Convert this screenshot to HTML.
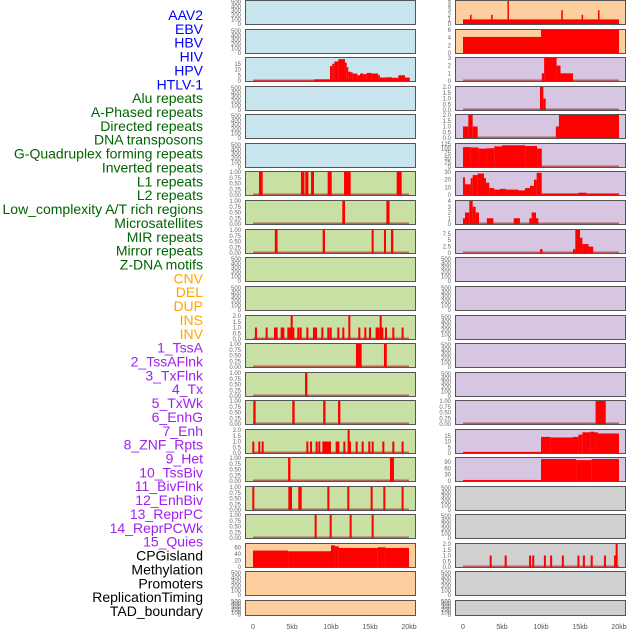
<!DOCTYPE html>
<html><head><meta charset="utf-8">
<style>
body{margin:0;background:#fff;width:630px;height:630px;overflow:hidden;font-family:"Liberation Sans",sans-serif}
svg{display:block}
</style></head>
<body>
<svg id="chart" width="630" height="630" viewBox="0 0 630 630" xmlns="http://www.w3.org/2000/svg"></svg>
<script>
// ---- data ----
const trackLabels=["AAV2","EBV","HBV","HIV","HPV","HTLV-1","Alu repeats","A-Phased repeats","Directed repeats","DNA transposons","G-Quadruplex forming repeats","Inverted repeats","L1 repeats","L2 repeats","Low_complexity A/T rich regions","Microsatellites","MIR repeats","Mirror repeats","Z-DNA motifs","CNV","DEL","DUP","INS","INV","1_TssA","2_TssAFlnk","3_TxFlnk","4_Tx","5_TxWk","6_EnhG","7_Enh","8_ZNF_Rpts","9_Het","10_TssBiv","11_BivFlnk","12_EnhBiv","13_ReprPC","14_ReprPCWk","15_Quies","CPGisland","Methylation","Promoters","ReplicationTiming","TAD_boundary"];
const labelGroups=[6,13,5,15,5];
const xTicks=[0,5,10,15,20];
const xTickLabels=["0","5kb","10kb","15kb","20kb"];
// spike positions (kb) for point-like features
const spikesL11=[0.38,1.75,2.82,3.03,3.68,3.89,4.53,4.74,4.96,5.17,5.81,6.11,6.97,7.82,8.08,8.89,9.66,9.96,10.94,11.58,12.35,13.63,14.4,15.0,15.85,16.1,16.37,16.58,17.05,17.99,19.18];
const spikeValsL11=[1,1,1,1,1,1,1,1,2,1,1,1,1,1,1,1,1,1,1,1,2,1,1,1,1,1,2,1,1,1,1];
const spikesL15=[0.04,0.81,1.24,6.97,7.44,8.16,8.5,9.02,9.23,9.44,9.66,9.87,10.73,10.94,11.71,12.26,12.43,13.29,14.06,14.91,15.34,16.71,17.99,19.18];
const spikeValsL15=[1,1,1,1,1,1,1,1,1,1,1,1,1,1,1,2,1,1,1,1,1,1,1,1];
const spikesL17=[0.04,4.66,4.87,5.94,6.11,9.66,12.22,15.21,16.84,19.18];
const spikesL18=[8.03,9.96,12.52,15.34];
const spikesR19=[3.55,5.47,8.6,9.0,10.5,11.3,12.8,14.8,15.5,16.5,18.2,19.5,19.7];
const spikeValsR19=[1,1,1,1,1,1,1,1,1,1,1,1,2];
// segments [startKb,endKb,value]
const segsHIV=[[0,7.86,0.3],[7.86,9.87,1.5],[9.87,10.17,13],[10.17,10.43,15],[10.43,10.94,17],[10.94,11.79,19],[11.79,12.01,16],[12.01,12.22,12],[12.22,12.56,8],[12.56,12.78,7.5],[12.78,13.38,6.5],[13.38,13.72,5],[13.72,14.15,6.5],[14.15,14.57,6],[14.57,15.21,7],[15.21,16.06,6.5],[16.06,16.28,5],[16.28,17.0,3],[17.0,17.86,3.2],[17.86,18.63,2.8],[18.63,19.49,5],[19.49,20.1,3]];
const segsL6=[[0.77,1.24,1],[6.15,6.6,1],[6.7,7.1,1],[7.44,7.82,1],[9.57,10.09,1],[11.67,12.52,1],[18.42,19.06,1]];
const segsL7=[[11.45,11.8,1],[17.1,17.5,1]];
const segsL8=[[2.8,3.15,1],[8.93,9.23,1],[15.21,15.47,1],[16.79,17.05,1],[17.69,17.99,1]];
const segsL12=[[13.2,13.93,1],[16.79,17.15,1]];
const segsL13=[[6.67,6.97,1]];
const segsL14=[[0.04,0.34,1],[5.04,5.34,1],[9.0,9.3,1],[10.9,11.2,1]];
const segsL16=[[4.5,4.8,1],[17.56,18.07,1]];
const segsCpG=[[0,4.5,50],[4.5,10,48],[10,10.5,66],[10.5,11,63],[11,16,58],[16,17,60],[17,20,58]];
const segsR0=[[0,20,1],[0.9,1.1,2],[3.6,3.8,2],[5.7,5.85,5],[12.6,12.8,3],[15.2,15.4,2],[17.3,17.5,3]];
const segsR1=[[0,10,4.2],[10,20,6]];
const segsR2=[[10.1,10.4,1],[10.4,12.0,3],[12.0,12.5,2],[12.5,14.1,1]];
const segsR3=[[9.87,10.3,2],[10.3,10.6,1]];
const segsR4=[[0,0.68,1],[0.68,1.24,2],[1.24,1.88,1],[11.9,12.3,1],[12.3,20,2]];
const segsR5=[[0,1,108],[1,2,106],[2,3,100],[3,4,102],[4,5,112],[5,8,118],[8,9.5,114],[9.5,10.1,100]];
const segsR6=[[0,0.26,23],[0.26,0.98,14],[0.98,1.24,22],[1.24,1.88,26],[1.88,2.69,28],[2.69,2.95,22],[2.95,3.37,16],[3.37,4.02,9],[4.02,4.74,7],[4.74,5.5,8],[5.5,7.1,7],[7.1,7.95,6],[7.95,8.59,9],[8.59,9.1,12],[9.1,9.44,20],[9.44,10.09,29],[10.09,14.79,2],[14.79,15.85,3],[15.85,20,2]];
const segsR7=[[0,0.26,1],[0.26,0.81,2],[0.81,1.24,4],[1.24,1.62,3],[1.62,2.05,2],[3.06,3.9,1],[6.5,7.3,1],[8.5,8.8,1],[8.8,9.36,2],[9.36,9.66,1]];
const segsR8=[[9.87,10.2,1.5],[14.1,14.4,1.5],[14.4,15.0,9],[15.0,15.3,6],[15.3,16.1,3.5],[16.1,16.7,2.5]];
const segsR14=[[17.0,18.3,1]];
const segsR15=[[0,10,1],[10,11.2,14],[11.2,14.1,13.5],[14.1,14.8,14],[14.8,15.3,16],[15.3,16.3,18],[16.3,16.8,18.5],[16.8,17.3,18],[17.3,20,17]];
const segsR16=[[0,10,5],[10,14.5,105],[14.5,16.5,100],[16.5,20,105]];

const BLUE="#c8e4ec",GREEN="#c8e0a4",ORANGE="#fecf9e",PURPLE="#d6c6e2",GRAY="#d0d0d0";
const T500=[0,100,200,300,400,500],TBIN=[0,0.25,0.5,0.75,1],T2=[0,0.5,1,1.5,2];
function sp(pos,vals){return pos.map((p,i)=>[p-0.13,p+0.13,vals?vals[i]:1]);}
const leftPanels=[
 {bg:BLUE,ymax:520,ticks:T500,segs:[],base:false},
 {bg:BLUE,ymax:520,ticks:T500,segs:[],base:false},
 {bg:BLUE,ymax:20,ticks:[0,5,10,15],segs:segsHIV,base:true},
 {bg:BLUE,ymax:520,ticks:T500,segs:[],base:false},
 {bg:BLUE,ymax:520,ticks:T500,segs:[],base:false},
 {bg:BLUE,ymax:520,ticks:T500,segs:[],base:false},
 {bg:GREEN,ymax:1,ticks:TBIN,segs:segsL6,base:true},
 {bg:GREEN,ymax:1,ticks:TBIN,segs:segsL7,base:true},
 {bg:GREEN,ymax:1,ticks:TBIN,segs:segsL8,base:true},
 {bg:GREEN,ymax:520,ticks:T500,segs:[],base:false},
 {bg:GREEN,ymax:520,ticks:T500,segs:[],base:false},
 {bg:GREEN,ymax:2,ticks:T2,segs:sp(spikesL11,spikeValsL11),base:true},
 {bg:GREEN,ymax:1,ticks:TBIN,segs:segsL12,base:true},
 {bg:GREEN,ymax:1,ticks:TBIN,segs:segsL13,base:true},
 {bg:GREEN,ymax:1,ticks:TBIN,segs:segsL14,base:true},
 {bg:GREEN,ymax:2,ticks:T2,segs:sp(spikesL15,spikeValsL15),base:true},
 {bg:GREEN,ymax:1,ticks:TBIN,segs:segsL16,base:true},
 {bg:GREEN,ymax:1,ticks:TBIN,segs:sp(spikesL17),base:true},
 {bg:GREEN,ymax:1,ticks:TBIN,segs:sp(spikesL18),base:true},
 {bg:ORANGE,ymax:70,ticks:[0,20,40,60],segs:segsCpG,base:false},
 {bg:ORANGE,ymax:520,ticks:T500,segs:[],base:false},
 {bg:ORANGE,ymax:520,ticks:T500,segs:[],base:false}
];
const rightPanels=[
 {bg:ORANGE,ymax:5,ticks:[0,1,2,3,4,5],segs:segsR0,base:false},
 {bg:ORANGE,ymax:6,ticks:[0,2,4,6],segs:segsR1,base:false},
 {bg:PURPLE,ymax:3,ticks:[0,1,2,3],segs:segsR2,base:true},
 {bg:PURPLE,ymax:2,ticks:T2,segs:segsR3,base:true},
 {bg:PURPLE,ymax:2,ticks:T2,segs:segsR4,base:true},
 {bg:PURPLE,ymax:125,ticks:[0,25,50,75,100,125],segs:segsR5,base:true},
 {bg:PURPLE,ymax:30,ticks:[0,10,20,30],segs:segsR6,base:false},
 {bg:PURPLE,ymax:4,ticks:[0,1,2,3,4],segs:segsR7,base:true},
 {bg:PURPLE,ymax:9,ticks:[0,2.5,5,7.5],segs:segsR8,base:true},
 {bg:PURPLE,ymax:520,ticks:T500,segs:[],base:false},
 {bg:PURPLE,ymax:520,ticks:T500,segs:[],base:false},
 {bg:PURPLE,ymax:520,ticks:T500,segs:[],base:false},
 {bg:PURPLE,ymax:520,ticks:T500,segs:[],base:false},
 {bg:PURPLE,ymax:520,ticks:T500,segs:[],base:false},
 {bg:PURPLE,ymax:1,ticks:TBIN,segs:segsR14,base:true},
 {bg:PURPLE,ymax:20,ticks:[0,5,10,15],segs:segsR15,base:false},
 {bg:PURPLE,ymax:110,ticks:[0,30,60,90],segs:segsR16,base:false},
 {bg:GRAY,ymax:520,ticks:T500,segs:[],base:false},
 {bg:GRAY,ymax:520,ticks:T500,segs:[],base:false},
 {bg:GRAY,ymax:2,ticks:T2,segs:sp(spikesR19,spikeValsR19),base:true},
 {bg:GRAY,ymax:520,ticks:T500,segs:[],base:false},
 {bg:GRAY,ymax:520,ticks:T500,segs:[],base:false}
];
// ---- render ----
const NS="http://www.w3.org/2000/svg";
const svg=document.getElementById('chart');
function mk(tag,attrs,parent){const e=document.createElementNS(NS,tag);for(const k in attrs)e.setAttribute(k,attrs[k]);(parent||svg).appendChild(e);return e;}
const labelColors=["#0000ff","#006400","#ffa500","#a020f0","#000000"];
let gi=0,cnt=0;
trackLabels.forEach((t,i)=>{
  while(cnt>=labelGroups[gi]){cnt-=labelGroups[gi];gi++;}
  cnt++;
  const el=mk('text',{x:203,y:15+i*13.86+5,'text-anchor':'end','font-size':14,fill:labelColors[gi]});
  el.textContent=t;
  
  
});
const tops=[0,29,57,86,114,143,171,200,229,257,286,315,343,372,400,429,457,486,514,543,571,600];
function panelH(i){return i===21?16:25;}
function drawCol(panels,x0,name){
  const W=171, xs=k=>x0+8+k*7.8;
  panels.forEach((p,i)=>{
    const top=tops[i],h=panelH(i);
    const g=mk('g',{});
    
    
    mk('rect',{x:x0,y:top,width:W,height:h,fill:p.bg},g);
    const ys=v=>top+h-1-(v/p.ymax)*(h-2);
    if(p.base){const b=mk('rect',{x:xs(0),y:top+h-2.5,width:xs(20)-xs(0),height:1.5,fill:'#b03030','fill-opacity':0.7},g);
      }
    p.segs.forEach(s=>{
      const r=mk('rect',{x:xs(s[0]),y:ys(s[2]),width:Math.max(1.5,xs(s[1])-xs(s[0])),height:top+h-1-ys(s[2]),fill:'#ff0000'},g);
      
      
    });
    mk('rect',{x:x0+0.5,y:top+0.5,width:W-1,height:h-1,fill:'none',stroke:'#555','stroke-width':1},g);
    p.ticks.forEach(tv=>{
      const ty=ys(tv);
      const tx=mk('text',{x:x0-4,y:ty+2,'text-anchor':'end','font-size':6,fill:'#666'},g);
      tx.textContent=(p.ymax===1)?tv.toFixed(2):(p.ticks===T2?tv.toFixed(1):(tv===2.5||tv===7.5?tv.toFixed(1):String(tv)));
      
      
    });
  });
  xTicks.forEach((k,j)=>{
    const t=mk('text',{x:xs(k),y:629,'text-anchor':'middle','font-size':7,fill:'#555'});
    t.textContent=xTickLabels[j];
    
    
  });
}
drawCol(leftPanels,245,'left');
drawCol(rightPanels,455,'right');
</script>
</body></html>
